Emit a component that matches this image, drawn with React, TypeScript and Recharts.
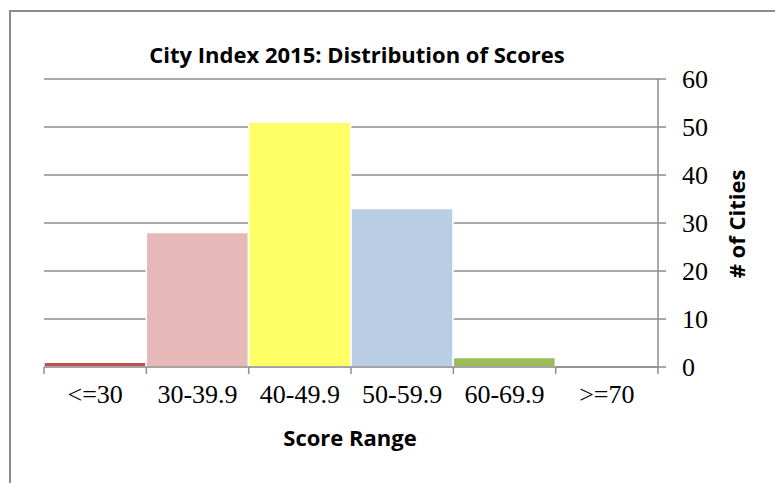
import { BarChart, Bar, XAxis, YAxis, CartesianGrid, Cell } from 'recharts'

const ranges = ['<=30', '30-39.9', '40-49.9', '50-59.9', '60-69.9', '>=70']
const cities = [1, 28, 51, 33, 2, 0]
const barColors = ['#c0504d', '#e6b9b8', '#ffff66', '#b9cde5', '#9bbb59', '#8064a2']
const yTicks = [0, 10, 20, 30, 40, 50, 60]
const edgeTicks = [0, 1, 2, 3, 4, 5, 6]

const data = ranges.map((range, i) => ({ range, cities: cities[i], edge: i + 0.5 }))

const gray = '#8c8c8c'
const serif = '"Liberation Serif", serif'
const sans = '"Open Sans", sans-serif'

export default function App() {
    return (
        <div style={{ position: 'absolute', left: 0, top: 0, width: 775, height: 483, overflow: 'hidden', background: '#fff' }}>
            <div style={{ position: 'absolute', left: 9, top: 10, width: 900, height: 600, borderLeft: `2px solid ${gray}`, borderTop: `2px solid ${gray}` }} />
            <BarChart
                width={775}
                height={483}
                data={data}
                barCategoryGap={0}
                margin={{ top: 79, right: 57, left: 44, bottom: 86 }}
                style={{ position: 'absolute', left: 0, top: 0 }}
            >
                <CartesianGrid vertical={false} xAxisId="a_edges" stroke={gray} strokeWidth={1.5} />
                {/* band edges: tick marks between categories */}
                <XAxis
                    xAxisId="a_edges"
                    dataKey="edge"
                    type="number"
                    domain={[0, 6]}
                    ticks={edgeTicks}
                    interval={0}
                    allowDataOverflow
                    height={1}
                    tickSize={7}
                    tickFormatter={() => ''}
                    stroke={gray}
                    strokeWidth={1.5}
                />
                <XAxis
                    dataKey="range"
                    xAxisId="b_cat"
                    height={29}
                    axisLine={false}
                    tickLine={false}
                    tickSize={0}
                    tickMargin={17}
                    interval={0}
                    tick={{ fill: '#000', fontSize: 26, fontFamily: serif }}
                />
                <YAxis
                    orientation="right"
                    width={60}
                    domain={[0, 60]}
                    ticks={yTicks}
                    tickSize={8}
                    tickMargin={16}
                    stroke={gray}
                    strokeWidth={1.5}
                    tick={{ fill: '#000', fontSize: 26, fontFamily: serif }}
                />
                <Bar dataKey="cities" xAxisId="b_cat" stroke="#fff" strokeWidth={1.5} isAnimationActive={false}>
                    {data.map((d, i) => (
                        <Cell key={d.range} fill={barColors[i]} />
                    ))}
                </Bar>
            </BarChart>
            <div style={{ position: 'absolute', left: 0, width: 714, top: 40, textAlign: 'center', fontFamily: sans, fontWeight: 700, fontSize: 22, lineHeight: '28px', color: '#000' }}>
                City Index 2015: Distribution of Scores
            </div>
            <div style={{ position: 'absolute', left: 0, width: 700, top: 423, textAlign: 'center', fontFamily: sans, fontWeight: 700, fontSize: 22, lineHeight: '28px', color: '#000' }}>
                Score Range
            </div>
            <div style={{ position: 'absolute', left: 736, top: 224, width: 0, height: 0 }}>
                <div style={{ position: 'absolute', left: -100, top: -14, width: 200, textAlign: 'center', transform: 'rotate(-90deg)', fontFamily: sans, fontWeight: 700, fontSize: 22, lineHeight: '28px', color: '#000' }}>
                    # of Cities
                </div>
            </div>
        </div>
    )
}
